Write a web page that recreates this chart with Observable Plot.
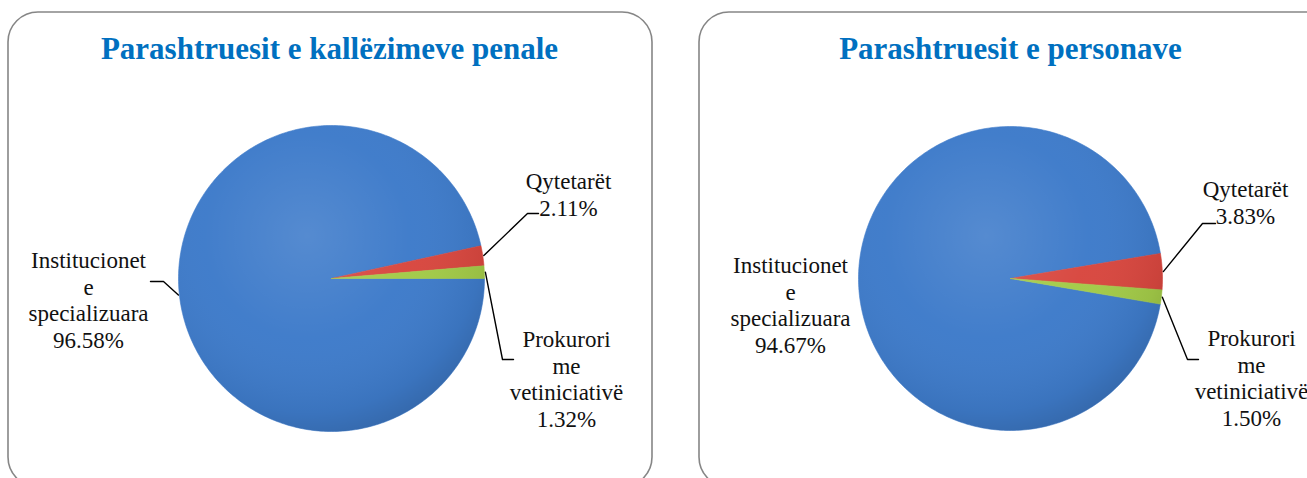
<!DOCTYPE html>
<html><head><meta charset="utf-8">
<script src="https://cdn.jsdelivr.net/npm/d3@7"></script>
<script src="https://cdn.jsdelivr.net/npm/@observablehq/plot@0.6"></script>
<style>html,body{margin:0;padding:0;background:#fff;overflow:hidden;} #chart svg{display:block;}
#chart svg text{font-family:"Liberation Serif","DejaVu Serif",serif !important;}</style>
</head><body><div id="chart"></div>
<script>
// ---- data ----
const titles = ["Parashtruesit e kallëzimeve penale", "Parashtruesit e personave"];
const categories = ["Institucionet e specializuara", "Qytetarët", "Prokurori me vetiniciativë"];
const labelLines = [["Institucionet", "e", "specializuara"], ["Qytetarët"], ["Prokurori", "me", "vetiniciativë"]];
const valuesKallezime = [96.58, 2.11, 1.32];
const valuesPersonave = [94.67, 3.83, 1.50];

// ---- style / layout ----
const colors = ["#3e7bca", "#d8473f", "#a3cb48"];
const panels = [
  {values: valuesKallezime, title: titles[0], x1: 8, x2: 652, tx: 329, cx: 331, cy: 278, r: 153, start: 90,
   labels: [{x: 88, y: 347, path: [[150, 281], [163, 281]]},
            {x: 568, y: 215, path: [[538, 213], [527, 213]]},
            {x: 566, y: 426, path: [[513, 359], [502, 359]]}]},
  {values: valuesPersonave, title: titles[1], x1: 699, x2: 1343, tx: 1010, cx: 1010, cy: 278, r: 152, start: 99.7,
   labels: [{x: 790, y: 352, path: null},
            {x: 1245, y: 223, path: [[1215, 223], [1202, 223]]},
            {x: 1251, y: 425, path: [[1198, 359], [1187, 359]]}]}
];

const fmt = d3.format(".2f");
const sliceRows = [], circleRows = [], leaderRows = [], labelRows = [];
panels.forEach((p, pi) => {
  const total = d3.sum(p.values);
  let a = p.start;
  for (let k = 0; k <= 180; k++) {
    const t = k * 2 * Math.PI / 180;
    circleRows.push({id: pi, x: p.cx + p.r * Math.sin(t), y: p.cy - p.r * Math.cos(t)});
  }
  p.values.forEach((v, ci) => {
    const span = v / total * 360;
    const a0 = a, a1 = a + span;
    const id = `${pi}-${ci}`, cat = categories[ci];
    const n = Math.max(2, Math.ceil(span));
    sliceRows.push({id, cat, x: p.cx, y: p.cy});
    for (let k = 0; k <= n; k++) {
      const t = (a0 + (a1 - a0) * k / n) * Math.PI / 180;
      sliceRows.push({id, cat, x: p.cx + p.r * Math.sin(t), y: p.cy - p.r * Math.cos(t)});
    }
    sliceRows.push({id, cat, x: p.cx, y: p.cy});
    const mid = (a0 + a1) / 2 * Math.PI / 180;
    const lab = p.labels[ci];
    if (lab.path) {
      lab.path.forEach(([x, y]) => leaderRows.push({id, x, y}));
      leaderRows.push({id, x: p.cx + (p.r + 1) * Math.sin(mid), y: p.cy - (p.r + 1) * Math.cos(mid)});
    }
    labelRows.push({x: lab.x, y: lab.y, text: [...labelLines[ci], fmt(v) + "%"].join("\n")});
    a = a1;
  });
});

const fs = 23;
const chart = Plot.plot({
  width: 1307, height: 478,
  margin: 0,
  style: {fontFamily: "'Liberation Serif', 'DejaVu Serif', serif"},
  x: {domain: [0, 1307], range: [0, 1307], axis: null},
  y: {domain: [0, 478], range: [0, 478], axis: null},
  color: {domain: categories, range: colors},
  marks: [
    Plot.rect(panels, {x1: "x1", x2: "x2", y1: () => 12, y2: () => 487, rx: 30, ry: 30, fill: "white", stroke: "#868686", strokeWidth: 1.6}),
    Plot.line(sliceRows, {x: "x", y: "y", z: "id", fill: "cat", stroke: "cat", strokeWidth: 0.6, curve: "linear"}),
    Plot.line(circleRows, {x: "x", y: "y", z: "id", fill: "url(#pieShade)", stroke: "none"}),
    Plot.line(leaderRows, {x: "x", y: "y", z: "id", stroke: "black", strokeWidth: 1.4}),
    Plot.text(labelRows, {x: "x", y: "y", text: "text", lineAnchor: "bottom", lineHeight: 26.5 / fs,
      fontSize: fs, fill: "#111", textAnchor: "middle"}),
    Plot.text(panels, {x: "tx", y: () => 58, text: "title", lineAnchor: "bottom", fontSize: 31,
      fontWeight: "bold", fill: "#0070c0", textAnchor: "middle"})
  ]
});

const svg = d3.select(chart);
svg.selectAll("text").style("font-family", "'Liberation Serif', 'DejaVu Serif', serif");
const defs = svg.insert("defs", ":first-child");
const g = defs.append("radialGradient").attr("id", "pieShade")
  .attr("cx", 0.42).attr("cy", 0.36).attr("r", 0.68);
g.append("stop").attr("offset", 0).attr("stop-color", "white").attr("stop-opacity", 0.12);
g.append("stop").attr("offset", 0.5).attr("stop-color", "white").attr("stop-opacity", 0.02);
g.append("stop").attr("offset", 0.85).attr("stop-color", "black").attr("stop-opacity", 0.06);
g.append("stop").attr("offset", 1).attr("stop-color", "black").attr("stop-opacity", 0.16);
document.getElementById("chart").appendChild(chart);
</script>
</body></html>
